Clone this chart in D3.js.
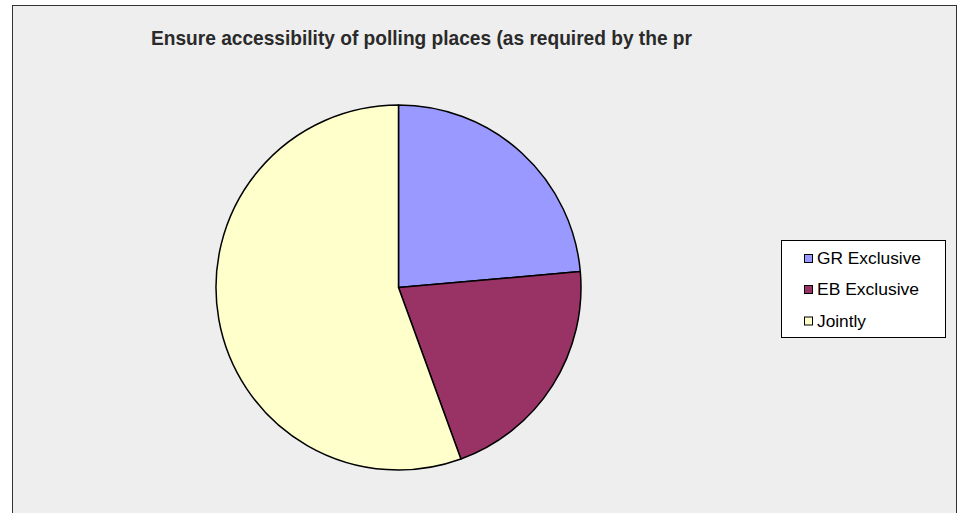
<!DOCTYPE html>
<html><head><meta charset="utf-8">
<script src="https://cdn.jsdelivr.net/npm/d3@7"></script>
<style>body{margin:0;background:#fff}svg{display:block}</style>
</head><body>
<svg id="c" width="961" height="513"></svg>
<script>
const categories = ["GR Exclusive", "EB Exclusive", "Jointly"];
const values = [17, 15, 40];
const colors = ["#9999ff", "#993366", "#ffffcc"];
const title = "Ensure accessibility of polling places (as required by the pr";

const svg = d3.select("#c");
svg.append("rect").attr("x", 12.5).attr("y", 5.5).attr("width", 944).attr("height", 520)
  .attr("fill", "#eeeeee").attr("stroke", "#333").attr("stroke-width", 1);

svg.append("text").attr("x", 151).attr("y", 45)
  .attr("font-family", "Liberation Sans Narrow, Liberation Sans, Arial, sans-serif").attr("font-size", 21)
  .attr("font-weight", "bold").attr("textLength", 541).attr("lengthAdjust", "spacingAndGlyphs")
  .attr("fill", "#2a2a2a").text(title);

const cx = 398.5, cy = 287.5, r = 182.5;
const pie = d3.pie().sort(null).value(d => d)(values);
const arc = d3.arc().innerRadius(0).outerRadius(r);
const g = svg.append("g").attr("transform", `translate(${cx},${cy})`);
g.selectAll("path").data(pie).join("path")
  .attr("d", arc).attr("fill", (d, i) => colors[i])
  .attr("stroke", "#000").attr("stroke-width", 1.5).attr("stroke-linejoin", "round");

const lg = svg.append("g");
lg.append("rect").attr("x", 781.5).attr("y", 240.5).attr("width", 164).attr("height", 97)
  .attr("fill", "#fff").attr("stroke", "#000");
const rowY = [258.5, 289.5, 321];
const textW = [104, 102, 49];
categories.forEach((c, i) => {
  lg.append("rect").attr("x", 804.5).attr("y", rowY[i] - 4).attr("width", 8).attr("height", 8)
    .attr("fill", colors[i]).attr("stroke", "#000");
  lg.append("text").attr("x", 817).attr("y", rowY[i] + 5.5)
    .attr("font-family", "Liberation Sans, Arial, sans-serif").attr("font-size", 16)
    .attr("textLength", textW[i]).attr("lengthAdjust", "spacingAndGlyphs")
    .attr("fill", "#000").text(c);
});
</script>
</body></html>
